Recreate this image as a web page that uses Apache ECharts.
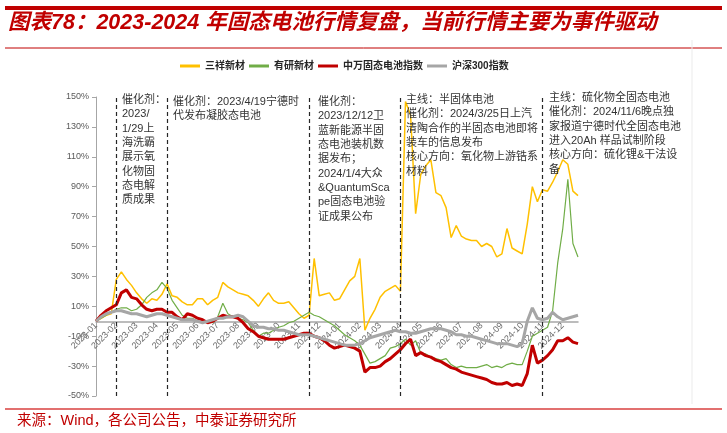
<!DOCTYPE html>
<html><head><meta charset="utf-8">
<script src="https://cdn.jsdelivr.net/npm/echarts@6/dist/echarts.min.js"></script>
<style>html,body{margin:0;padding:0;background:#fff}#c{width:727px;height:433px}</style>
</head><body><div id="c"></div>
<script>
const months = ['2023-01','2023-02','2023-03','2023-04','2023-05','2023-06','2023-07','2023-08','2023-09','2023-10','2023-11','2023-12',
  '2024-01','2024-02','2024-03','2024-04','2024-05','2024-06','2024-07','2024-08','2024-09','2024-10','2024-11','2024-12'];
const weeks = ['W1','W2','W3','W4'];
const yTicks = [-50,-30,-10,10,30,50,70,90,110,130,150];
const seriesNames = ['三祥新材','有研新材','中万固态电池指数','沪深300指数'];

const sanxiang = [0,2,4,5,28,33,28,24,19,15,
 12,15,14,18,25,17,16,13,11,11,
 15,15,11,14,16,26,23,21,19,18,
 17,14,10,15,19,14,12,12,13,9,
 5,2,4,42,17,18,19,14,15,21,
 27,30,42,-6,2,8,16,20,22,24,
 20,147,138,72,98,104,108,86,84,76,
 56,64,57,55,54,54,50,52,50,43,
 45,62,49,47,45,65,90,80,88,87,
 93,100,108,105,87,84];
const youyan = [0,2,4,6,8,9,9,7,8,11,
 16,19,21,26,22,14,9,4,2,2,
 0,-1,0,-1,3,12,5,3,2,1,
 -1,-6,-10,-8,-8,-6,-4,-3,-1,0,
 2,4,6,4,3,1,-1,-3,-6,-9,
 -11,-13,-16,-22,-28,-27,-25,-23,-18,-17,
 -15,-12,-16,-13,-21,-22,-24,-25,-26,-25,
 -29,-31,-30,-31,-31,-31,-30,-29,-31,-30,
 -31,-29,-28,-29,-29,-20,-10,-8,-6,-4,
 7,39,62,95,52,43];
const swIndex = [0,4,7,9,11,19,21,16,15,11,
 8,7,8,8,6,6,3,1,5,4,
 2,1,-1,0,2,4,3,3,2,-1,
 -5,-7,-10,-11,-12,-12,-12,-12,-11,-10,
 -9,-8,-8,-10,-11,-13,-16,-18,-17,-16,
 -17,-18,-20,-34,-31,-31,-30,-27,-25,-22,
 -19,-15,-12,-23,-21,-23,-24,-26,-27,-29,
 -31,-32,-34,-35,-36,-37,-38,-39,-41,-42,
 -42,-41,-43,-42,-43,-35,-16,-28,-26,-23,
 -19,-13,-13,-11,-14,-15];
const hs300 = [0,3,5,6,7,7,6,5,5,4,
 3,4,5,5,4,3,2,1,1,1,
 0,-1,0,1,2,2,3,3,4,3,
 0,-3,-4,-4,-5,-5,-6,-6,-7,-8,
 -9,-9,-9,-10,-11,-12,-13,-14,-15,-16,
 -16,-16,-15,-13,-11,-10,-9,-8,-7,-6,
 -7,-7,-8,-8,-7,-6,-5,-5,-5,-6,
 -7,-9,-9,-10,-10,-11,-12,-13,-14,-15,
 -15,-15,-16,-17,-15,0,9,2,1,2,
 6,3,1,2,3,4];

const eventCats = ['2023-02-W1','2023-04-W3','2023-11-W3','2024-04-W1','2024-11-W1'];

const notes = [
  {x:122, y:93, lines:['催化剂：','2023/','1/29上','海洗霸','展示氧','化物固','态电解','质成果']},
  {x:173, y:95, lines:['催化剂：2023/4/19宁德时','代发布凝胶态电池']},
  {x:318, y:95, lines:['催化剂：','2023/12/12卫','蓝新能源半固','态电池装机数','据发布；','2024/1/4大众','&QuantumSca','pe固态电池验','证成果公布']},
  {x:406, y:93, lines:['主线：半固体电池','催化剂：2024/3/25日上汽','清陶合作的半固态电池即将','装车的信息发布','核心方向：氧化物上游锆系','材料']},
  {x:549, y:91, lines:['主线：硫化物全固态电池','催化剂：2024/11/6晚点独','家报道宁德时代全固态电池','进入20Ah 样品试制阶段','核心方向：硫化锂&干法设','备']}
];
const titleText = '图表78：2023-2024 年固态电池行情复盘，当前行情主要为事件驱动';
const sourceText = '来源：Wind，各公司公告，中泰证券研究所';

const categories = months.flatMap(m => weeks.map(w => m + '-' + w));
const FONT = '"Liberation Sans","Noto Sans CJK SC",sans-serif';
const colors = ['#FFC000','#70AD47','#C00000','#A6A6A6'];
const widths = [1.5,1.2,3,3];
const datas = [sanxiang, youyan, swIndex, hs300];

const GRID = {left:96, right:149, top:97, bottom:37};
const yMin = -50, yMax = 150;
const gridH = 433 - GRID.top - GRID.bottom;
const zeroOffset = -((0 - yMin) / (yMax - yMin)) * gridH;

const chart = echarts.init(document.getElementById('c'), null, {renderer:'canvas'});
const series = seriesNames.map((n,i) => ({
  name:n, type:'line', data:datas[i], symbol:'none', showSymbol:false,
  lineStyle:{color:colors[i], width:widths[i]}, itemStyle:{color:colors[i]},
  z: 2+i, animation:false
}));
series[0].markLine = {
  silent:true, symbol:['none','none'], animation:false,
  label:{show:false},
  lineStyle:{type:[4,3], color:'#262626', width:1.2},
  data: eventCats.map(c => ({xAxis:c}))
};

const graphics = [
  {type:'rect', shape:{x:5,y:6,width:717,height:4}, style:{fill:'#C00000'}},
  {type:'text', x:8, y:23, style:{text:titleText, fontSize:21.5, fontWeight:'bold', fontStyle:'italic', fontFamily:FONT, fill:'#C00000', verticalAlign:'middle'}},
  {type:'line', shape:{x1:5,y1:48,x2:722,y2:48}, style:{stroke:'#C00000', lineWidth:1}},
  {type:'line', shape:{x1:692,y1:40,x2:692,y2:404}, style:{stroke:'#EBEBEB', lineWidth:1}},
  {type:'line', shape:{x1:5,y1:409,x2:722,y2:409}, style:{stroke:'#D9413F', lineWidth:1.5}},
  {type:'text', x:17, y:421, style:{text:sourceText, fontSize:14.5, fontFamily:FONT, fill:'#C00000', verticalAlign:'middle'}}
];
notes.forEach(n => graphics.push({type:'text', x:n.x, y:n.y, z:10,
  style:{text:n.lines.join('\n'), fontSize:11, lineHeight:14.3, fontFamily:FONT, fill:'#333333', verticalAlign:'top'}}));

chart.setOption({
  animation:false,
  textStyle:{fontFamily:FONT},
  legend:{left:175, top:56, icon:'rect', itemWidth:20, itemHeight:3, itemGap:4,
    textStyle:{fontSize:10, fontWeight:'bold', color:'#262626', fontFamily:FONT},
    data:seriesNames},
  grid:Object.assign({containLabel:false}, GRID),
  xAxis:{type:'category', data:categories, boundaryGap:false, offset:zeroOffset,
    axisLine:{onZero:false, lineStyle:{color:'#A6A6A6', width:1.5}},
    axisTick:{show:false},
    axisLabel:{interval:(idx) => idx % weeks.length === 0, formatter:v => v.slice(0,7),
      rotate:45, fontSize:9, color:'#6B6B6B', margin:3},
    splitLine:{show:false}},
  yAxis:{type:'value', min:yMin, max:yMax,
    axisLine:{show:true, lineStyle:{color:'#A6A6A6', width:1}},
    axisTick:{show:true, length:4, customValues:yTicks, lineStyle:{color:'#A6A6A6'}},
    axisLabel:{customValues:yTicks, formatter:'{value}%', fontSize:9, color:'#595959', margin:7},
    splitLine:{show:false}},
  series: series,
  graphic: graphics
});
</script></body></html>
